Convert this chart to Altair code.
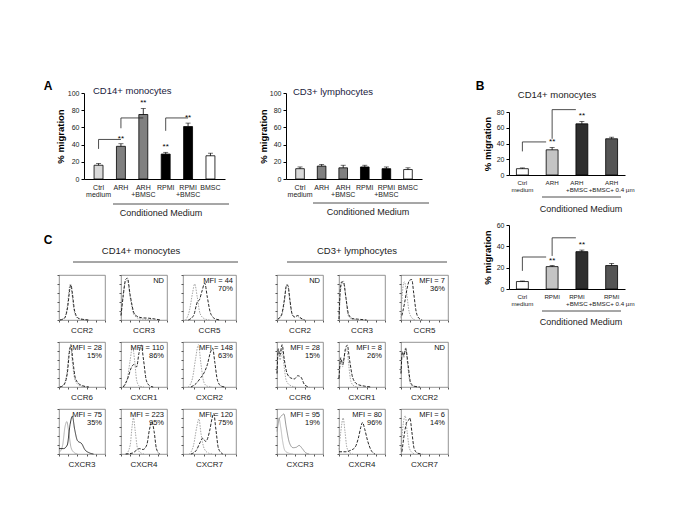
import altair as alt
import pandas as pd

FONT = "Liberation Sans"

# ---------------- Panel A data ----------------
A_CATS = ["Ctrl|medium", "ARH", "ARH|+BMSC", "RPMI", "RPMI|+BMSC", "BMSC"]
A_FILLS = ["#d9d9d9", "#808080", "#808080", "#000000", "#000000", "#ffffff"]
A_CD14_VALUES = [16, 38, 75, 29, 61, 27]
A_CD14_ERRORS = [2, 3, 7, 2, 4, 3]
A_CD14_STARS = ["", "**", "**", "**", "**", ""]
A_CD14_BR_FROM = ["Ctrl|medium", "ARH", "RPMI"]
A_CD14_BR_TO = ["ARH", "ARH|+BMSC", "RPMI|+BMSC"]
A_CD14_BR_LOW = [35, 59, 56]
A_CD14_BR_HIGH = [46, 71, 71]
A_CD3_VALUES = [12, 15, 13, 14, 12, 11]
A_CD3_ERRORS = [2, 2, 3, 2, 2, 2]
A_CD3_STARS = ["", "", "", "", "", ""]
A_TICKS = [0, 20, 40, 60, 80, 100]

# ---------------- Panel B data ----------------
B_ARH_CATS = ["Ctrl|medium", "ARH", "ARH|+BMSC", "ARH|+BMSC+ 0.4 µm"]
B_RPMI_CATS = ["Ctrl|medium", "RPMI", "RPMI|+BMSC", "RPMI|+BMSC+ 0.4 µm"]
B_FILLS = ["#ffffff", "#c4c4c4", "#2e2e2e", "#555555"]
B_ARH_VALUES = [8, 32, 65, 46]
B_ARH_ERRORS = [1, 3, 3, 2]
B_ARH_STARS = ["", "**", "**", ""]
B_ARH_BR_FROM = ["Ctrl|medium", "ARH"]
B_ARH_BR_TO = ["ARH", "ARH|+BMSC"]
B_ARH_BR_LOW = [30, 46]
B_ARH_BR_HIGH = [42, 83]
B_ARH_TICKS = [0, 20, 40, 60, 80]
B_RPMI_VALUES = [7, 21, 35, 22]
B_RPMI_ERRORS = [0.5, 1, 1.5, 2]
B_RPMI_STARS = ["", "**", "**", ""]
B_RPMI_BR_FROM = ["Ctrl|medium", "RPMI"]
B_RPMI_BR_TO = ["RPMI", "RPMI|+BMSC"]
B_RPMI_BR_LOW = [17, 31]
B_RPMI_BR_HIGH = [30, 48]
B_RPMI_TICKS = [0, 20, 40, 60]

# ---------------- Panel C data (histograms, fraction of panel) ----------------
MARKERS = ["CCR2", "CCR3", "CCR5", "CCR6", "CXCR1", "CXCR2", "CXCR3", "CXCR4", "CXCR7"]

CD14_CTRL = {
    "CCR2": [(0.02, 0), (0.12, 0.05), (0.18, 0.3), (0.23, 0.75), (0.25, 0.8), (0.28, 0.6), (0.33, 0.2), (0.4, 0.04), (0.5, 0.01), (0.6, 0)],
    "CCR3": [(0, 0.1), (0.05, 0.6), (0.1, 0.85), (0.14, 0.88), (0.2, 0.5), (0.28, 0.12), (0.4, 0.03), (0.6, 0.01), (0.7, 0)],
    "CCR5": [(0.05, 0), (0.12, 0.2), (0.18, 0.6), (0.22, 0.8), (0.27, 0.5), (0.32, 0.15), (0.4, 0.03), (0.5, 0)],
    "CCR6": [(0.02, 0), (0.1, 0.05), (0.17, 0.3), (0.22, 0.8), (0.25, 0.9), (0.29, 0.55), (0.35, 0.15), (0.45, 0.03), (0.6, 0)],
    "CXCR1": [(0.05, 0), (0.13, 0.15), (0.2, 0.6), (0.25, 0.9), (0.3, 0.55), (0.34, 0.15), (0.4, 0.02), (0.5, 0)],
    "CXCR2": [(0.1, 0), (0.18, 0.2), (0.24, 0.65), (0.29, 0.94), (0.34, 0.5), (0.39, 0.12), (0.45, 0.02), (0.55, 0)],
    "CXCR3": [(0.02, 0.05), (0.08, 0.2), (0.13, 0.6), (0.17, 0.72), (0.21, 0.5), (0.26, 0.15), (0.32, 0.04), (0.4, 0)],
    "CXCR4": [(0.12, 0), (0.2, 0.2), (0.24, 0.6), (0.27, 0.8), (0.31, 0.5), (0.36, 0.12), (0.42, 0.03), (0.5, 0)],
    "CXCR7": [(0.12, 0), (0.2, 0.2), (0.26, 0.6), (0.3, 0.78), (0.34, 0.45), (0.4, 0.12), (0.48, 0.02), (0.55, 0)],
}
CD14_SAMP = {
    "CCR2": [(0.02, 0), (0.12, 0.04), (0.19, 0.3), (0.24, 0.72), (0.26, 0.78), (0.29, 0.6), (0.34, 0.2), (0.42, 0.04), (0.55, 0.01), (0.65, 0)],
    "CCR3": [(0, 0.1), (0.05, 0.55), (0.1, 0.9), (0.14, 0.93), (0.2, 0.55), (0.3, 0.12), (0.45, 0.05), (0.6, 0.04), (0.75, 0.02), (0.85, 0)],
    "CCR5": [(0.1, 0), (0.2, 0.1), (0.27, 0.4), (0.31, 0.45), (0.36, 0.65), (0.41, 0.82), (0.46, 0.5), (0.52, 0.15), (0.6, 0.03), (0.7, 0)],
    "CCR6": [(0.02, 0), (0.1, 0.04), (0.18, 0.3), (0.23, 0.8), (0.26, 0.94), (0.3, 0.6), (0.36, 0.18), (0.48, 0.04), (0.65, 0)],
    "CXCR1": [(0.05, 0), (0.15, 0.2), (0.22, 0.42), (0.28, 0.5), (0.34, 0.45), (0.39, 0.75), (0.44, 0.93), (0.49, 0.6), (0.55, 0.15), (0.62, 0.03), (0.7, 0)],
    "CXCR2": [(0.15, 0), (0.25, 0.08), (0.33, 0.2), (0.4, 0.32), (0.46, 0.5), (0.52, 0.78), (0.56, 0.86), (0.6, 0.55), (0.65, 0.15), (0.72, 0.02), (0.8, 0)],
    "CXCR3": [(0, 0.12), (0.1, 0.12), (0.18, 0.2), (0.24, 0.65), (0.29, 0.84), (0.34, 0.55), (0.4, 0.3), (0.5, 0.22), (0.56, 0.1), (0.65, 0.03), (0.75, 0)],
    "CXCR4": [(0.1, 0), (0.25, 0.02), (0.33, 0.08), (0.4, 0.12), (0.48, 0.1), (0.56, 0.2), (0.62, 0.55), (0.67, 0.72), (0.72, 0.5), (0.77, 0.12), (0.84, 0)],
    "CXCR7": [(0.15, 0), (0.25, 0.08), (0.32, 0.25), (0.37, 0.35), (0.43, 0.28), (0.5, 0.5), (0.55, 0.8), (0.58, 0.9), (0.62, 0.55), (0.67, 0.12), (0.75, 0)],
}
CD14_MFI = {"CCR2": "", "CCR3": "ND", "CCR5": "MFI = 44", "CCR6": "MFI = 28", "CXCR1": "MFI = 110",
            "CXCR2": "MFI = 148", "CXCR3": "MFI = 75", "CXCR4": "MFI = 223", "CXCR7": "MFI = 120"}
CD14_PCT = {"CCR2": "", "CCR3": "", "CCR5": "70%", "CCR6": "15%", "CXCR1": "86%",
            "CXCR2": "63%", "CXCR3": "35%", "CXCR4": "95%", "CXCR7": "75%"}
CD14_LOOK = {"CXCR3": ("ctrl-solid", "samp-solid")}

CD3_CTRL = {
    "CCR2": [(0.02, 0.02), (0.1, 0.1), (0.16, 0.4), (0.2, 0.75), (0.23, 0.79), (0.27, 0.5), (0.32, 0.15), (0.38, 0.06), (0.44, 0.08), (0.5, 0.04), (0.6, 0)],
    "CCR3": [(0, 0.02), (0.03, 0.6), (0.06, 0.8), (0.1, 0.86), (0.15, 0.5), (0.2, 0.1), (0.28, 0.02), (0.4, 0)],
    "CCR5": [(0, 0.05), (0.03, 0.6), (0.07, 0.85), (0.12, 0.6), (0.17, 0.2), (0.23, 0.05), (0.3, 0)],
    "CCR6": [(0, 0.3), (0.03, 0.8), (0.07, 0.6), (0.11, 0.85), (0.15, 0.5), (0.2, 0.15), (0.28, 0.04), (0.4, 0)],
    "CXCR1": [(0, 0.2), (0.04, 0.6), (0.08, 0.45), (0.13, 0.75), (0.17, 0.85), (0.21, 0.5), (0.26, 0.12), (0.33, 0.02), (0.4, 0)],
    "CXCR2": [(0, 0.3), (0.03, 0.8), (0.06, 0.65), (0.1, 0.88), (0.14, 0.5), (0.19, 0.1), (0.25, 0.01), (0.35, 0)],
    "CXCR3": [(0, 0.6), (0.04, 0.8), (0.08, 0.6), (0.12, 0.3), (0.17, 0.08), (0.25, 0.02), (0.35, 0)],
    "CXCR4": [(0, 0.1), (0.04, 0.5), (0.09, 0.8), (0.13, 0.5), (0.17, 0.15), (0.23, 0.03), (0.3, 0)],
    "CXCR7": [(0, 0.1), (0.04, 0.6), (0.09, 0.85), (0.13, 0.5), (0.18, 0.12), (0.25, 0.02), (0.3, 0)],
}
CD3_SAMP = {
    "CCR2": [(0.02, 0.02), (0.1, 0.12), (0.16, 0.45), (0.21, 0.78), (0.24, 0.76), (0.28, 0.45), (0.33, 0.13), (0.38, 0.07), (0.45, 0.1), (0.52, 0.04), (0.6, 0)],
    "CCR3": [(0, 0.02), (0.03, 0.7), (0.06, 0.85), (0.1, 0.83), (0.15, 0.5), (0.21, 0.12), (0.3, 0.03), (0.4, 0.02), (0.6, 0)],
    "CCR5": [(0.02, 0.1), (0.08, 0.4), (0.13, 0.7), (0.18, 0.88), (0.23, 0.9), (0.27, 0.6), (0.32, 0.2), (0.38, 0.04), (0.45, 0)],
    "CCR6": [(0, 0.3), (0.03, 0.85), (0.06, 0.7), (0.11, 0.94), (0.16, 0.6), (0.22, 0.3), (0.3, 0.2), (0.38, 0.18), (0.45, 0.25), (0.52, 0.22), (0.6, 0.05), (0.7, 0)],
    "CXCR1": [(0, 0.2), (0.04, 0.65), (0.08, 0.5), (0.14, 0.85), (0.18, 0.93), (0.23, 0.6), (0.3, 0.2), (0.4, 0.06), (0.55, 0.02), (0.7, 0)],
    "CXCR2": [(0, 0.3), (0.03, 0.78), (0.06, 0.7), (0.1, 0.85), (0.15, 0.5), (0.2, 0.12), (0.27, 0.02), (0.4, 0)],
    "CXCR3": [(0, 0.5), (0.05, 0.78), (0.1, 0.85), (0.15, 0.89), (0.2, 0.6), (0.27, 0.25), (0.35, 0.14), (0.42, 0.15), (0.48, 0.19), (0.55, 0.12), (0.62, 0.03), (0.7, 0)],
    "CXCR4": [(0, 0.05), (0.15, 0.05), (0.25, 0.08), (0.35, 0.15), (0.42, 0.35), (0.48, 0.62), (0.51, 0.7), (0.56, 0.55), (0.62, 0.3), (0.7, 0.08), (0.78, 0)],
    "CXCR7": [(0.02, 0.05), (0.08, 0.5), (0.12, 0.7), (0.16, 0.75), (0.19, 0.8), (0.23, 0.5), (0.28, 0.12), (0.35, 0.02), (0.45, 0)],
}
CD3_MFI = {"CCR2": "ND", "CCR3": "", "CCR5": "MFI = 7", "CCR6": "MFI = 28", "CXCR1": "MFI = 8",
           "CXCR2": "ND", "CXCR3": "MFI = 95", "CXCR4": "MFI = 80", "CXCR7": "MFI = 6"}
CD3_PCT = {"CCR2": "", "CCR3": "", "CCR5": "36%", "CCR6": "15%", "CXCR1": "26%",
           "CXCR2": "", "CXCR3": "19%", "CXCR4": "96%", "CXCR7": "14%"}
CD3_LOOK = {"CXCR3": ("ctrl-gray", "samp-gray")}

LOOKS = ["ctrl-dotted", "samp-dashed", "ctrl-solid", "samp-solid", "ctrl-gray", "samp-gray"]
LOOK_COLORS = ["#9c9c9c", "#111111", "#a8a8a8", "#222222", "#b4b4b4", "#8c8c8c"]
LOOK_DASHES = [[1.5, 1.2], [3, 1.5], [1, 0], [1, 0], [1, 0], [1, 0]]


def note(t, x, y, **kw):
    return alt.Chart(pd.DataFrame({"t": [t]})).mark_text(**kw).encode(
        x=alt.value(x), y=alt.value(y), text="t:N")


def hline(x1, x2, y):
    return alt.Chart(pd.DataFrame({"t": [0]})).mark_rule(color="#222", strokeWidth=0.8).encode(
        x=alt.value(x1), x2=alt.value(x2), y=alt.value(y))


def spacer(w, h):
    return alt.Chart(pd.DataFrame({"t": [0]})).mark_rule(opacity=0).encode(
        x=alt.value(0), x2=alt.value(w), y=alt.value(h / 2)).properties(width=w, height=h)


def bar_panel(cats, fills, values, errors, stars, br, ymax, yticks, width, height,
              pad_outer, extras, h_off=0, title_pad=2, label_size=7.0, label_shift=None):
    df = pd.DataFrame({"cat": cats, "value": values, "err": errors, "fill": fills, "star": stars})
    df["top"] = df["value"] + df["err"]
    xscale = alt.Scale(domain=cats, paddingInner=0.6, paddingOuter=pad_outer)
    ax_kw = dict(title=None, labelAngle=0, labelExpr="split(datum.label, '|')", ticks=False,
                 domainColor="#000", labelFontSize=label_size, labelColor="#222", labelPadding=4,
                 labelLineHeight=7.5, labelOverlap=False, grid=False)
    if label_shift is not None:
        ax_kw["labelOffset"] = {"condition": {"test": "datum.label == '%s'" % label_shift[0],
                                              "value": label_shift[1]}, "value": 0}
    xaxis = alt.Axis(**ax_kw)
    yscale = alt.Scale(domain=[0, ymax], nice=False)
    yaxis = alt.Axis(title="% migration", values=yticks, titleFontSize=9.5, titleFontWeight="bold",
                     titleColor="#000", titlePadding=title_pad, labelFontSize=7, labelColor="#222",
                     tickSize=3, tickColor="#000", domainColor="#000", grid=False, labelPadding=2)
    X = lambda f: alt.X(f, scale=xscale, axis=xaxis, sort=cats)
    Y = lambda f: alt.Y(f, scale=yscale, axis=yaxis)
    base = alt.Chart(df)
    bars = base.mark_bar(stroke="#000", strokeWidth=0.8).encode(
        x=X("cat:N"), y=Y("value:Q"), fill=alt.Fill("fill:N", scale=None))
    err = base.mark_rule(color="#000", strokeWidth=0.8).encode(x=X("cat:N"), y=Y("value:Q"), y2="top:Q")
    cap = base.mark_tick(color="#000", size=5, thickness=0.8).encode(x=X("cat:N"), y=Y("top:Q"))
    st = base.mark_text(fontSize=8, baseline="middle", dy=-5).encode(x=X("cat:N"), y=Y("top:Q"), text="star:N")
    layers = [bars, err, cap, st]
    if br is not None:
        bdf = pd.DataFrame({"b_from": br[0], "b_to": br[1], "low": br[2], "high": br[3]})
        bb = alt.Chart(bdf)
        layers.append(bb.mark_rule(color="#222", strokeWidth=0.8).encode(
            x=alt.X("b_from:N", scale=xscale, axis=xaxis, sort=cats, bandPosition=0.5),
            y=Y("low:Q"), y2="high:Q"))
        layers.append(bb.mark_rule(color="#222", strokeWidth=0.8, x2Offset=h_off).encode(
            x=alt.X("b_from:N", scale=xscale, axis=xaxis, sort=cats, bandPosition=0.5),
            x2=alt.X2("b_to:N", bandPosition=0.5), y=Y("high:Q")))
    layers += extras
    return alt.layer(*layers).properties(width=width, height=height)


TITLE_COLOR = "#20203c"

a1 = bar_panel(A_CATS, A_FILLS, A_CD14_VALUES, A_CD14_ERRORS, A_CD14_STARS,
               (A_CD14_BR_FROM, A_CD14_BR_TO, A_CD14_BR_LOW, A_CD14_BR_HIGH),
               100, A_TICKS, 141, 86, 0.45,
               [note("A", -36, -7, fontSize=12, fontWeight="bold"),
                note("CD14+ monocytes", 9, -2, fontSize=9.5, align="left", color=TITLE_COLOR),
                hline(29, 145, 111),
                note("Conditioned Medium", 77, 120, fontSize=9, color="#222")])
a2 = bar_panel(A_CATS, A_FILLS, A_CD3_VALUES, A_CD3_ERRORS, A_CD3_STARS, None,
               100, A_TICKS, 136, 86, 0.45,
               [note("CD3+ lymphocytes", 7, -1, fontSize=9.5, align="left", color=TITLE_COLOR),
                hline(27, 143, 110),
                note("Conditioned Medium", 82, 119, fontSize=9, color="#222")], title_pad=1)
row_a = alt.hconcat(spacer(25, 1), alt.hconcat(a1, a2, spacing=61, bounds="flush"),
                    spacing=0, bounds="flush")

b1 = bar_panel(B_ARH_CATS, B_FILLS, B_ARH_VALUES, B_ARH_ERRORS, B_ARH_STARS,
               (B_ARH_BR_FROM, B_ARH_BR_TO, B_ARH_BR_LOW, B_ARH_BR_HIGH),
               80, B_ARH_TICKS, 116, 63, 0.25,
               [note("B", -29, -26, fontSize=12, fontWeight="bold"),
                note("CD14+ monocytes", 48, -17, fontSize=9.5, color="#222"),
                hline(33, 112, 85),
                note("Conditioned Medium", 72, 97, fontSize=9, color="#222")],
               h_off=-6, title_pad=4, label_size=6.2, label_shift=("ARH|+BMSC", -5))
b2 = bar_panel(B_RPMI_CATS, B_FILLS, B_RPMI_VALUES, B_RPMI_ERRORS, B_RPMI_STARS,
               (B_RPMI_BR_FROM, B_RPMI_BR_TO, B_RPMI_BR_LOW, B_RPMI_BR_HIGH),
               60, B_RPMI_TICKS, 116, 64, 0.25,
               [hline(33, 112, 86),
                note("Conditioned Medium", 72, 97, fontSize=9, color="#222")],
               h_off=-6, title_pad=4, label_size=6.2, label_shift=("RPMI|+BMSC", -5))
col_b = alt.vconcat(spacer(116, 19), alt.vconcat(b1, b2, spacing=50, bounds="flush"),
                    spacing=0, bounds="flush")

HAX = alt.Axis(title=None, labels=False, ticks=True, tickSize=2, tickColor="#555", domain=False,
               grid=False, tickCount=5)
VAX = alt.Axis(title=None, labels=False, ticks=True, tickSize=2, tickColor="#555", domain=False,
               grid=False, tickCount=4)


def hist_panel(m, ctrl, samp, looks, mfi, pct, extras, w):
    lc, ls = looks.get(m, ("ctrl-dotted", "samp-dashed"))
    rows = [{"curve": "ctrl", "look": lc, "x": x, "y": y} for x, y in ctrl[m]]
    rows += [{"curve": "samp", "look": ls, "x": x, "y": y} for x, y in samp[m]]
    df = pd.DataFrame(rows)
    curves = alt.Chart(df).mark_line(strokeWidth=0.9, interpolate="monotone").encode(
        x=alt.X("x:Q", scale=alt.Scale(domain=[0, 1], nice=False), axis=HAX),
        y=alt.Y("y:Q", scale=alt.Scale(domain=[0, 1], nice=False), axis=VAX),
        detail="curve:N",
        color=alt.Color("look:N", scale=alt.Scale(domain=LOOKS, range=LOOK_COLORS), legend=None),
        strokeDash=alt.StrokeDash("look:N", scale=alt.Scale(domain=LOOKS, range=LOOK_DASHES), legend=None),
    )
    layers = [curves, note(m, w / 2, 56, fontSize=8, color="#222")]
    if mfi[m]:
        layers.append(note(mfi[m], w - 3, 6, fontSize=7.5, align="right", color="#111"))
    if pct[m]:
        layers.append(note(pct[m], w - 3, 14, fontSize=7.5, align="right", color="#111"))
    layers += extras
    return alt.layer(*layers).properties(
        width=w, height=45, view=alt.ViewBackground(stroke="#777", strokeWidth=0.8))


def hist_block(ctrl, samp, looks, mfi, pct, header, col_widths):
    panels = [hist_panel(m, ctrl, samp, looks, mfi, pct, header if i == 0 else [], col_widths[i % 3])
              for i, m in enumerate(MARKERS)]
    return alt.concat(*panels, columns=3, spacing={"row": 22, "column": 16}, bounds="flush")


f14 = hist_block(CD14_CTRL, CD14_SAMP, CD14_LOOK, CD14_MFI, CD14_PCT, [
    note("C", -11, -35, fontSize=12, fontWeight="bold"),
    note("CD14+ monocytes", 82, -24, fontSize=9.5, color="#222"),
    hline(14, 179, -13),
], [46, 46, 53])
f3 = hist_block(CD3_CTRL, CD3_SAMP, CD3_LOOK, CD3_MFI, CD3_PCT, [
    note("CD3+ lymphocytes", 80, -24, fontSize=9.5, color="#222"),
    hline(10, 170, -13),
], [46, 46, 47])
row_c = alt.hconcat(f14, f3, spacing=35)

left = alt.vconcat(row_a, row_c, spacing=14)
chart = alt.hconcat(left, col_b, spacing=26).properties(
    padding={"left": 35, "top": 71, "right": 5, "bottom": 5}
).configure(font=FONT).configure_view(stroke="transparent")

chart.save("out.html", embed_options={"renderer": "svg", "actions": False})
